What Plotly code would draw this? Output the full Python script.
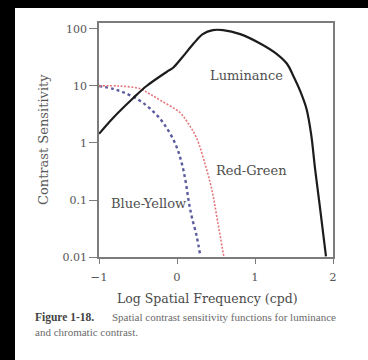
import plotly.graph_objects as go

# ---- data: x = log10 spatial frequency (cpd), y = log10 contrast sensitivity ----
lum_logf = [-1.0, -0.82, -0.56, -0.39, -0.13, -0.05, 0.06, 0.21, 0.33, 0.46, 0.59,
            0.81, 1.06, 1.28, 1.41, 1.49, 1.58, 1.66, 1.72, 1.77, 1.83, 1.91]
lum_logs = [0.16, 0.44, 0.79, 1.0, 1.25, 1.32, 1.49, 1.74, 1.91, 1.98, 1.98,
            1.91, 1.75, 1.56, 1.39, 1.18, 0.91, 0.60, 0.15, -0.45, -1.10, -1.99]

rg_logf = [-1.0, -0.74, -0.47, -0.35, -0.20, 0.04, 0.15, 0.25, 0.36, 0.45, 0.52, 0.60]
rg_logs = [1.0, 1.0, 0.95, 0.86, 0.74, 0.53, 0.33, 0.09, -0.37, -0.84, -1.37, -1.99]

by_logf = [-1.0, -0.82, -0.69, -0.51, -0.35, -0.18, -0.02, 0.06, 0.11, 0.15, 0.19, 0.25, 0.30]
by_logs = [1.0, 0.95, 0.89, 0.77, 0.61, 0.36, -0.02, -0.35, -0.67, -1.02, -1.30, -1.62, -1.99]

y_tickvals = [0.01, 0.1, 1, 10, 100]
y_ticktext = ["0.01", "0.1", "1", "10", "100"]
x_tickvals = [-1, 0, 1, 2]

labels = ["Luminance", "Red-Green", "Blue-Yellow"]
label_x = [0.885, 0.95, -0.37]
label_logy = [1.18, -0.49, -1.07]

# ---- layout geometry (pixels) ----
W, H = 368, 360
L, R, T, B = 99, 35, 23, 103
pw, ph = W - L - R, H - T - B


def px(xp):
    return (xp - L) / pw


def py(yp):
    return (H - B - yp) / ph


serif = "DejaVu Serif"
axis_col = "#7c7c7c"
text_col = "#555555"

fig = go.Figure()
fig.add_trace(go.Scatter(x=by_logf, y=[10 ** v for v in by_logs], mode="lines",
                         line_shape="spline",
                         line=dict(color="#5a5c9e", width=2.4, dash="3px,3px"),
                         hoverinfo="skip"))
fig.add_trace(go.Scatter(x=rg_logf, y=[10 ** v for v in rg_logs], mode="lines",
                         line_shape="spline",
                         line=dict(color="#e5777a", width=1.6, dash="2px,1.6px"),
                         hoverinfo="skip"))
fig.add_trace(go.Scatter(x=lum_logf, y=[10 ** v for v in lum_logs], mode="lines",
                         line_shape="spline",
                         line=dict(color="#1c1c1c", width=2.2),
                         hoverinfo="skip"))

annotations = []
for t, xv, yv in zip(labels, label_x, label_logy):
    annotations.append(dict(x=xv, y=yv, yref="y", xref="x", text=t, showarrow=False,
                            font=dict(family=serif, size=13, color="#505050"),
                            xanchor="center", yanchor="middle"))

# axis titles
annotations.append(dict(x=px(207), y=py(298), xref="paper", yref="paper",
                        text="Log Spatial Frequency (cpd)", showarrow=False,
                        font=dict(family=serif, size=12.5, color="#4a4a4a"),
                        xanchor="center", yanchor="middle"))
annotations.append(dict(x=px(43), y=py(140), xref="paper", yref="paper",
                        text="Contrast Sensitivity", showarrow=False, textangle=-90,
                        font=dict(family=serif, size=13, color="#5a5a5a"),
                        xanchor="center", yanchor="middle"))
# caption
annotations.append(dict(x=px(33), y=py(317), xref="paper", yref="paper",
                        text="<b>Figure 1-18.</b>", showarrow=False,
                        font=dict(family="Liberation Serif", size=11.5, color="#444444"),
                        xanchor="left", yanchor="middle"))
annotations.append(dict(x=px(110), y=py(317), xref="paper", yref="paper",
                        text="Spatial contrast sensitivity functions for luminance",
                        showarrow=False,
                        font=dict(family="Liberation Serif", size=11, color="#6a6a6a"),
                        xanchor="left", yanchor="middle"))
annotations.append(dict(x=px(33), y=py(332), xref="paper", yref="paper",
                        text="and chromatic contrast.", showarrow=False,
                        font=dict(family="Liberation Serif", size=11, color="#6a6a6a"),
                        xanchor="left", yanchor="middle"))

shapes = [
    dict(type="rect", xref="paper", yref="paper", x0=px(-2), x1=px(15), y0=py(H + 2), y1=py(-2),
         fillcolor="black", line=dict(width=0), layer="above"),
    dict(type="rect", xref="paper", yref="paper", x0=px(-2), x1=px(W + 2), y0=py(8), y1=py(-2),
         fillcolor="black", line=dict(width=0), layer="above"),
]

fig.update_layout(
    width=W, height=H,
    margin=dict(l=L, r=R, t=T, b=B),
    paper_bgcolor="white", plot_bgcolor="white",
    showlegend=False,
    annotations=annotations,
    shapes=shapes,
    xaxis=dict(range=[-1, 2], tickvals=x_tickvals, ticks="outside", ticklen=5,
               tickwidth=1.3, tickcolor=axis_col, showline=True, linecolor=axis_col,
               linewidth=1.5, mirror=True, showgrid=False, zeroline=False,
               ticklabelstandoff=3,
               tickfont=dict(family=serif, size=11.5, color=text_col)),
    yaxis=dict(type="log", range=[-2, 2.105], tickvals=y_tickvals, ticktext=y_ticktext,
               ticks="outside", ticklen=8, tickwidth=1.3, tickcolor=axis_col,
               showline=True, linecolor=axis_col, linewidth=1.5, mirror=True,
               showgrid=False, zeroline=False,
               tickfont=dict(family=serif, size=11, color=text_col)),
)

fig.write_html("out.html", config={"displayModeBar": False},
               post_script="document.body.style.margin='0';document.body.style.overflow='hidden';")
